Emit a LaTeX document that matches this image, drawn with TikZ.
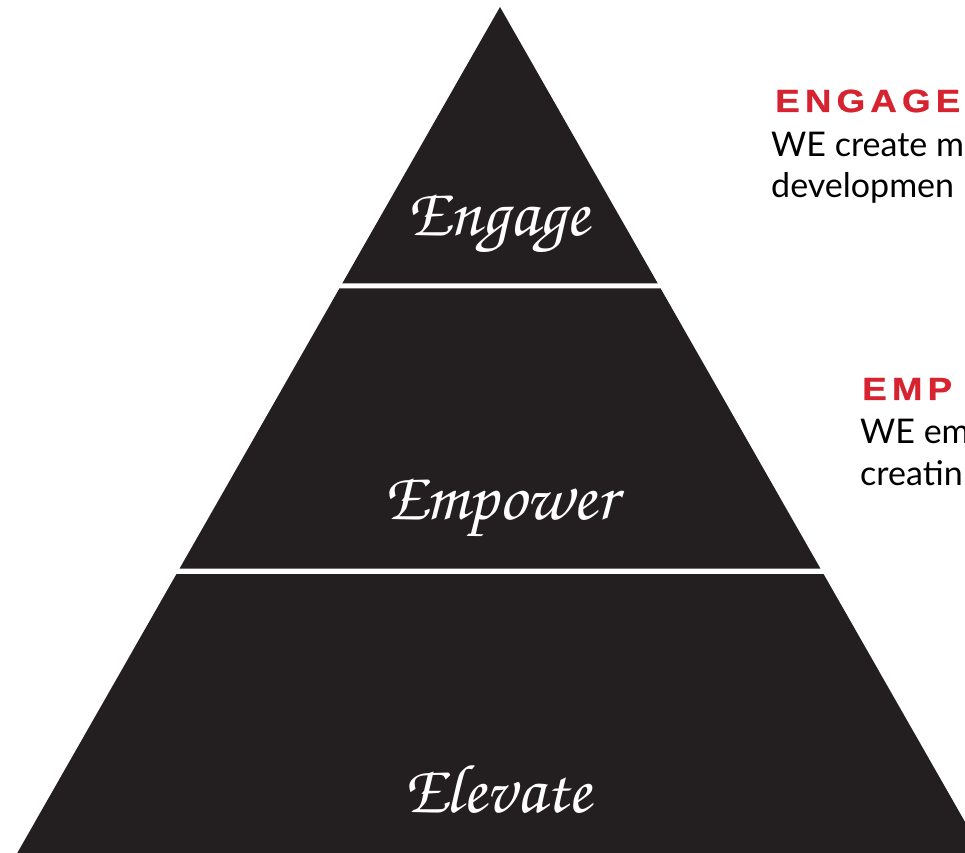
\documentclass[tikz,border=0pt]{standalone}
\usepackage{fontspec}
\usepackage{tikz}
\setmainfont{Lato}
\newfontfamily\headfont[LetterSpace=16,FakeStretch=1.15,FakeBold=0.8]{Liberation Sans Bold}
\newfontfamily\brushfont{TeX Gyre Chorus}
\definecolor{tierdark}{HTML}{231F20}
\definecolor{headred}{HTML}{D6232F}

\begin{document}
\begin{tikzpicture}[x=1pt,y=1pt]
			\tikzset{tier/.style={fill=tierdark}}
			\tikzset{tierlabel/.style={text=white,font=\brushfont\fontsize{69}{69}\selectfont}}
			\tikzset{headline/.style={anchor=base west,inner sep=0pt,text=headred,font=\headfont\fontsize{32}{32}\selectfont}}
			\tikzset{bodyline/.style={anchor=base west,inner sep=0pt,text=black,font=\fontsize{34}{34}\selectfont}}
			\useasboundingbox (0,0) rectangle (965,852);
			\clip (0,0) rectangle (965,852);
			\foreach \ytop/\ybot in {845/568.5, 563.5/283.5, 278/-40}
				\fill[tier] ({500-(845-\ytop)*0.5706},\ytop) -- ({500+(845-\ytop)*0.5706},\ytop)
					-- ({500+(845-\ybot)*0.5706},\ybot) -- ({500-(845-\ybot)*0.5706},\ybot) -- cycle;
			\node[tierlabel] (engage) at (498,628) {Engage};
			\node[tierlabel] (empower) at (500,344) {Empower};
			\node[tierlabel] (elevate) at (497,62) {Elevate};
			\node[headline] (engagehead) at (775,740) {ENGAGE};
			\node[bodyline] (engageone) at (771,695) {WE create m};
			\node[bodyline] (engagetwo) at (771,654) {developmen};
			\node[headline] (empowerhead) at (862,452) {EMP};
			\node[bodyline] (empowerone) at (860,409) {WE em};
			\node[bodyline] (empowertwo) at (860,367) {creatin};
		\end{tikzpicture}
\end{document}
